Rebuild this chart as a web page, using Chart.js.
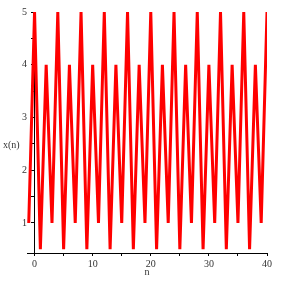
<!DOCTYPE html>
<html>
<head>
<meta charset="utf-8">
<script src="https://cdn.jsdelivr.net/npm/chart.js@4.4.1/dist/chart.umd.min.js"></script>
<style>
    html, body { margin: 0; padding: 0; background: #fff; }
    #wrap { width: 283px; height: 283px; }
</style>
</head>
<body>
<div id="wrap"><canvas id="plot"></canvas></div>
<script>
// sequence n -> x(n)
const nValues = [-1, 0, 1, 2, 3, 4, 5, 6, 7, 8, 9, 10, 11, 12, 13, 14, 15, 16, 17, 18, 19, 20,
    21, 22, 23, 24, 25, 26, 27, 28, 29, 30, 31, 32, 33, 34, 35, 36, 37, 38, 39, 40];
const xValues = [1, 5, 0.5, 4, 1, 5, 0.5, 4, 1, 5, 0.5, 4, 1, 5, 0.5, 4, 1, 5, 0.5, 4, 1, 5,
    0.5, 4, 1, 5, 0.5, 4, 1, 5, 0.5, 4, 1, 5, 0.5, 4, 1, 5, 0.5, 4, 1, 5];

const nTicks = [0, 5, 10, 15, 20, 25, 30, 35, 40];
const nTickLabels = ['0', '', '10', '', '20', '', '30', '', '40'];
const yTicks = [1, 1.5, 2, 2.5, 3, 3.5, 4, 4.5, 5];
const yTickLabels = ['1', '', '2', '', '3', '', '4', '', '5'];

const serif = { family: '"Liberation Serif", "DejaVu Serif", serif', size: 10 };
const textColor = '#333';

// the "x(n)" label sits horizontally left of the axis, like in Maple
const yLabel = {
    id: 'yLabel',
    afterDraw(chart) {
        const c = chart.ctx;
        c.save();
        c.font = '10px "Liberation Serif", serif';
        c.fillStyle = textColor;
        c.textAlign = 'left';
        c.textBaseline = 'middle';
        c.fillText('x(n)', 3, 145);
        c.restore();
    }
};

const ctx = document.getElementById('plot').getContext('2d');
new Chart(ctx, {
    type: 'line',
    data: {
        datasets: [{
            data: nValues.map((n, i) => ({ x: n, y: xValues[i] })),
            borderColor: '#ff0000',
            borderWidth: 3,
            borderJoinStyle: 'bevel',
            pointRadius: 0,
            tension: 0,
            fill: false
        }]
    },
    options: {
        responsive: true,
        maintainAspectRatio: false,
        devicePixelRatio: 1,
        animation: false,
        layout: { padding: { left: 27, right: 16, top: 12, bottom: 5 } },
        plugins: { legend: { display: false }, tooltip: { enabled: false } },
        scales: {
            x: {
                type: 'linear',
                min: -1.3,
                max: 40,
                afterBuildTicks: axis => { axis.ticks = nTicks.map(v => ({ value: v })); },
                afterFit: axis => { axis.height = 25; },
                ticks: {
                    callback: (v, i) => nTickLabels[i],
                    autoSkip: false,
                    maxRotation: 0,
                    padding: 2,
                    font: serif,
                    color: textColor
                },
                grid: { drawOnChartArea: false, tickLength: 3, color: '#000' },
                border: { color: '#000', width: 1 },
                title: { display: true, text: 'n', font: serif, color: textColor, padding: 0 }
            },
            y: {
                type: 'linear',
                position: { x: 0 },
                min: 0.43,
                max: 5,
                afterBuildTicks: axis => { axis.ticks = yTicks.map(v => ({ value: v })); },
                ticks: {
                    // axis placed at n = 0 ignores padding, so keep a gap with spaces
                    callback: (v, i) => yTickLabels[i] ? yTickLabels[i] + '   ' : '',
                    autoSkip: false,
                    font: serif,
                    color: textColor
                },
                grid: { drawOnChartArea: false, tickLength: 3, color: '#000' },
                border: { color: '#000', width: 1 }
            }
        }
    },
    plugins: [yLabel]
});
</script>
</body>
</html>
